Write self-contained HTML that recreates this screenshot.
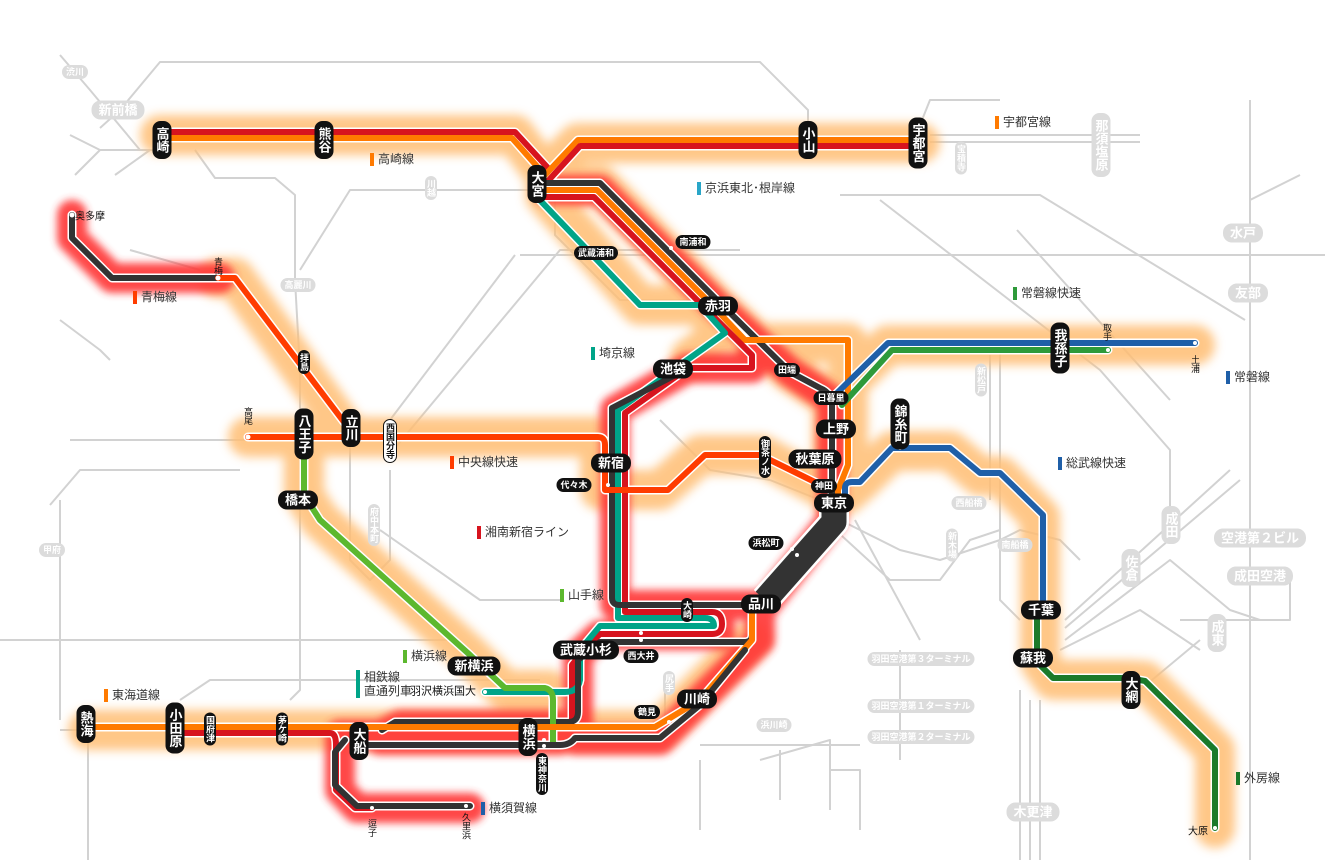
<!DOCTYPE html>
<html><head><meta charset="utf-8">
<style>
html,body{margin:0;padding:0;background:#fff;}
#w{position:relative;width:1325px;height:864px;overflow:hidden;background:#fff;font-family:"Liberation Sans","Noto Sans CJK JP",sans-serif;}
svg{position:absolute;left:0;top:0;}
.p{position:absolute;transform:translate(-50%,-50%);background:#111;color:#fff;font-weight:bold;font-size:13px;line-height:15px;border-radius:9px;padding:2px 7px;white-space:nowrap;}
.v{writing-mode:vertical-rl;text-orientation:upright;padding:6px 2px;border-radius:8px;}
.s{font-size:9px;line-height:10px;padding:2px 4px;}
.sv{font-size:9px;line-height:10px;padding:3px 1px;}
.g{background:#dcdcdc;color:#fff;}
.wt{background:transparent;color:#111;font-weight:normal;}
.l{position:absolute;font-size:12px;color:#333;white-space:nowrap;border-left:4px solid #000;padding-left:4px;line-height:13px;}
</style></head><body><div id="w">
<svg width="1325" height="864" viewBox="0 0 1325 864">
<defs>
<filter id="b1" x="-20%" y="-20%" width="140%" height="140%"><feGaussianBlur stdDeviation="5"/></filter>
<filter id="b2" x="-20%" y="-20%" width="140%" height="140%"><feGaussianBlur stdDeviation="4"/></filter>
</defs>
<g fill="none" stroke="#d2d2d2" stroke-width="2" stroke-linejoin="round">
<path d="M100,128 L120,110 L160,62 H760 L808,110 V125"/>
<path d="M60,55 L90,90 L140,150"/>
<path d="M70,135 L100,150 H160 M100,150 L75,175"/>
<path d="M150,150 L115,175"/>
<path d="M195,150 L215,178 H275 L295,195 V280 L300,370 V560 L300,690 L290,700"/>
<path d="M300,270 L350,190 H540"/>
<path d="M920,125 L930,100 H1000"/>
<path d="M930,135 H1140 M930,142 H1140"/>
<path d="M1250,100 V860"/>
<path d="M555,200 V235 L620,300 H700"/>
<path d="M130,250 L200,270"/>
<path d="M520,255 H1325"/>
<path d="M60,320 L100,350 L110,360"/>
<path d="M390,420 L515,255"/>
<path d="M385,460 L560,250 H740"/>
<path d="M840,195 L1040,195 L1245,320"/>
<path d="M1300,175 L1250,200"/>
<path d="M880,200 L1100,370 L1170,450 V525"/>
<path d="M990,355 V500"/>
<path d="M1000,350 V600 L1020,620"/>
<path d="M1017,230 L1170,400"/>
<path d="M70,440 H350 M50,505 L80,470 H240"/>
<path d="M60,500 V720"/>
<path d="M350,445 V560 L370,580 L390,560 V470"/>
<path d="M660,420 L710,470 L770,480 L820,500"/>
<path d="M830,525 L890,580 L940,580 L970,540 L1000,530"/>
<path d="M840,520 L900,550 L940,560 L1000,540 L1020,530 L1060,540 L1080,560"/>
<path d="M855,520 L920,640"/>
<path d="M900,650 V760"/>
<path d="M1065,620 L1230,470 M1065,628 L1240,480"/>
<path d="M1065,640 L1170,560 L1230,610 L1260,620"/>
<path d="M1060,650 L1140,610 L1200,650"/>
<path d="M1180,620 H1290 V580"/>
<path d="M1040,700 V860 M1030,700 V860 M1020,690 V860"/>
<path d="M1140,690 L1200,640"/>
<path d="M665,690 V740"/>
<path d="M700,745 H860"/>
<path d="M760,760 L830,740 V810 M780,750 V800"/>
<path d="M830,770 H860 V830"/>
<path d="M180,700 L210,680 H540"/>
<path d="M700,760 L700,830"/>
<path d="M380,530 L480,600 H560"/>
<path d="M0,640 H450"/>
<path d="M90,730 H60 M88,740 V860"/>
</g>
<g fill="none" stroke="#ffbe73" stroke-width="40" stroke-linejoin="round" stroke-linecap="round" filter="url(#b1)" opacity="0.85">
<path d="M160,135 H515 L545,175 L578,143 H920"/>
<path d="M545,185 H600 L716,305 L790,372 L832,400 V500"/>
<path d="M545,195 L640,305 H700 L725,333 L690,358"/>
<path d="M745,343 H848 V480"/>
<path d="M835,395 L888,345 H1195"/>
<path d="M845,495 L860,482 L892,451 H950 L980,476 H1000 L1040,517 V662 L1053,680 H1128 L1145,681 L1215,750 V828"/>
<path d="M218,278 H235 L350,437"/>
<path d="M248,437 H600 V490 H660 L700,455 H762 L826,490"/>
<path d="M304,450 V495 L320,520 L470,655 L505,690 H550"/>
<path d="M88,730 H560 L660,730 L750,640"/>
</g>
<g fill="none" stroke="#ff3535" stroke-width="30" stroke-linejoin="round" stroke-linecap="round" filter="url(#b2)" opacity="0.9">
<path d="M72,215 V238 L112,278 H220"/>
<path d="M548,190 H600 L716,305 L790,372 L832,400 V520 L765,605"/>
<path d="M752,355 V368 H688 L615,410 V605 H760 V640 L700,700 L660,740 H575"/>
<path d="M720,620 V635 H600 L578,655 V725 H400 L380,735 H340 V790 L357,808 H470"/>
<path d="M560,740 H380"/>
</g>
<path d="M834,498 V522 L765,600" fill="none" stroke="#fff" stroke-width="30" stroke-linejoin="round"/>
<path d="M834,498 V522 L765,600" fill="none" stroke="#333" stroke-width="25" stroke-linejoin="round"/>
<g fill="none" stroke-linejoin="round" stroke-linecap="round">
<g stroke="#fff" stroke-width="9">
<path d="M160,132 H515 L548,168"/><path d="M160,138 H512 L542,172"/>
<path d="M545,175 L578,140 H920"/><path d="M548,181 L580,146 H920"/>
<path d="M540,183 H600 L715,298 L790,372 L820,388 Q832,393 832,405 V500"/>
<path d="M540,190 H597 L712,305 L745,340 H848 V465 L838,490 V500"/>
<path d="M545,197 H594 L700,303 L752,355 V368 H688 L625,413 V612 H712 Q722,612 722,624 Q722,634 712,634 H600 L584,650 L572,665 V722"/>
<path d="M535,195 L640,305 H700 L725,333 L690,358 L618,410 V618 H705 Q714,618 714,626 H600 L580,650 V680 Q578,692 565,692 H485"/>
<path d="M685,370 L612,408 V598 Q612,605 620,605 H752 V635 Q752,642 744,642 H600 L578,660 V712 Q578,722 568,722 H395 L382,730"/>
<path d="M835,395 L888,343 H1195"/><path d="M842,405 L892,350 H1108"/>
<path d="M845,505 V488 Q845,482 852,482 H860 L892,448 H950 L980,473 H1000 L1043,515 V600"/>
<path d="M1037,608 V662 L1053,678 H1128 L1145,681 L1215,750 V828"/>
<path d="M72,215 V238 L112,278 H218"/>
<path d="M218,278 H235 L350,430"/>
<path d="M248,437 H598 Q605,437 605,445 V490 H668 L705,455 H760 L825,487"/>
<path d="M304,455 V495 L320,520 L470,655 L505,688 H545 Q553,690 553,700 V745"/>
<path d="M88,727 H560 L655,727 L700,700 L752,640 V612"/>
<path d="M175,733 H330 Q336,733 336,745 V790 L355,808 H372"/>
<path d="M360,745 H560 Q570,745 575,738 L660,738 L700,705 L745,650"/>
<path d="M345,740 L335,752 V785 L357,806 H470"/>
</g>
<g stroke-width="6">
<path stroke="#d7141e" d="M160,132 H515 L548,168"/>
<path stroke="#ff7a00" d="M160,138 H512 L542,172"/>
<path stroke="#ff7a00" d="M545,175 L578,140 H920"/>
<path stroke="#d7141e" d="M548,181 L580,146 H920"/>
<path stroke="#333" d="M540,183 H600 L715,298 L790,372 L820,388 Q832,393 832,405 V500"/>
<path stroke="#ff7a00" d="M540,190 H597 L712,305 L745,340 H848 V465 L838,490 V500"/>
<path stroke="#d7141e" d="M545,197 H594 L700,303 L752,355 V368 H688 L625,413 V612 H712 Q722,612 722,624 Q722,634 712,634 H600 L584,650 L572,665 V722"/>
<path stroke="#00a488" d="M535,195 L640,305 H700 L725,333 L690,358 L618,410 V618 H705 Q714,618 714,626 H600 L580,650 V680 Q578,692 565,692 H485"/>
<path stroke="#333" d="M685,370 L612,408 V598 Q612,605 620,605 H752 V635 Q752,642 744,642 H600 L578,660 V712 Q578,722 568,722 H395 L382,730"/>
<path stroke="#1f5fa8" d="M835,395 L888,343 H1195"/>
<path stroke="#2e9a3a" d="M842,405 L892,350 H1108"/>
<path stroke="#1f5fa8" d="M845,505 V488 Q845,482 852,482 H860 L892,448 H950 L980,473 H1000 L1043,515 V600"/>
<path stroke="#1b7a2a" d="M1037,608 V662 L1053,678 H1128 L1145,681 L1215,750 V828"/>
<path stroke="#333" d="M72,215 V238 L112,278 H218"/>
<path stroke="#ff3c00" d="M218,278 H235 L350,430"/>
<path stroke="#ff3c00" d="M248,437 H598 Q605,437 605,445 V490 H668 L705,455 H760 L825,487"/>
<path stroke="#5cb82e" d="M304,455 V495 L320,520 L470,655 L505,688 H545 Q553,690 553,700 V745"/>
<path stroke="#ff7a00" d="M88,727 H560 L655,727 L700,700 L752,640 V612"/>
<path stroke="#d7141e" d="M175,733 H330 Q336,733 336,745 V790 L355,808 H372"/>
<path stroke="#333" d="M360,745 H560 Q570,745 575,738 L660,738 L700,705 L745,650"/>
<path stroke="#333" d="M345,740 L335,752 V785 L357,806 H470"/>
</g>
</g>
<g fill="#fff">
<circle cx="72" cy="215" r="2.5"/><circle cx="218" cy="278" r="2.5"/><circle cx="248" cy="437" r="2.5"/>
<circle cx="608" cy="485" r="2"/><circle cx="671" cy="248" r="2"/><circle cx="1108" cy="350" r="2"/><circle cx="1195" cy="343" r="2"/>
<circle cx="900" cy="448" r="2"/><circle cx="792" cy="549" r="2"/><circle cx="797" cy="555" r="2"/>
<circle cx="641" cy="633" r="2"/><circle cx="641" cy="640" r="2"/><circle cx="669" cy="722" r="2"/>
<circle cx="544" cy="740" r="2"/><circle cx="544" cy="746" r="2"/><circle cx="372" cy="808" r="2"/><circle cx="466" cy="806" r="2"/>
<circle cx="1215" cy="828" r="2"/><circle cx="485" cy="692" r="2"/>
</g>
</svg>

<div class="p v" style="left:162px;top:140px">高崎</div>
<div class="p v" style="left:324px;top:140px">熊谷</div>
<div class="p v" style="left:808px;top:140px">小山</div>
<div class="p v" style="left:918px;top:143px">宇都宮</div>
<div class="p v" style="left:537px;top:184px">大宮</div>
<div class="p" style="left:718px;top:306px">赤羽</div>
<div class="p" style="left:673px;top:369px">池袋</div>
<div class="p" style="left:611px;top:463px">新宿</div>
<div class="p" style="left:836px;top:429px">上野</div>
<div class="p" style="left:815px;top:459px">秋葉原</div>
<div class="p" style="left:834px;top:503px">東京</div>
<div class="p" style="left:761px;top:604px">品川</div>
<div class="p" style="left:586px;top:650px">武蔵小杉</div>
<div class="p" style="left:474px;top:666px">新横浜</div>
<div class="p" style="left:697px;top:699px">川崎</div>
<div class="p v" style="left:528px;top:737px">横浜</div>
<div class="p v" style="left:359px;top:741px">大船</div>
<div class="p v" style="left:175px;top:728px">小田原</div>
<div class="p v" style="left:86px;top:724px">熱海</div>
<div class="p v" style="left:304px;top:434px">八王子</div>
<div class="p v" style="left:351px;top:428px">立川</div>
<div class="p" style="left:298px;top:500px">橋本</div>
<div class="p v" style="left:1060px;top:348px">我孫子</div>
<div class="p v" style="left:900px;top:424px">錦糸町</div>
<div class="p" style="left:1041px;top:610px">千葉</div>
<div class="p" style="left:1033px;top:658px">蘇我</div>
<div class="p v" style="left:1131px;top:690px">大網</div>
<div class="p s" style="left:831px;top:398px">日暮里</div>
<div class="p s" style="left:787px;top:370px">田端</div>
<div class="p s" style="left:693px;top:242px">南浦和</div>
<div class="p s" style="left:596px;top:253px">武蔵浦和</div>
<div class="p s" style="left:574px;top:485px">代々木</div>
<div class="p s" style="left:824px;top:486px">神田</div>
<div class="p s" style="left:766px;top:543px">浜松町</div>
<div class="p s" style="left:641px;top:656px">西大井</div>
<div class="p s" style="left:647px;top:712px">鶴見</div>
<div class="p v sv" style="left:765px;top:457px">御茶ノ水</div>
<div class="p v sv" style="left:687px;top:610px">大崎</div>
<div class="p v sv" style="left:390px;top:441px;background:#fff;color:#111;border:1px solid #111">西国分寺</div>
<div class="p v sv" style="left:304px;top:362px">拝島</div>
<div class="p v sv" style="left:210px;top:729px">国府津</div>
<div class="p v sv" style="left:282px;top:729px">茅ケ崎</div>
<div class="p v sv" style="left:542px;top:774px">東神奈川</div>
<div class="p wt" style="left:90px;top:217px;font-size:10px">奥多摩</div>
<div class="p wt v sv" style="left:218px;top:266px">青梅</div>
<div class="p wt v sv" style="left:248px;top:416px">高尾</div>
<div class="p wt v sv" style="left:1107px;top:332px">取手</div>
<div class="p wt v sv" style="left:1195px;top:364px">土浦</div>
<div class="p wt v sv" style="left:372px;top:828px">逗子</div>
<div class="p wt v sv" style="left:466px;top:826px">久里浜</div>
<div class="p wt" style="left:1198px;top:832px;font-size:10px">大原</div>
<div class="p wt" style="left:443px;top:692px;font-size:11px">羽沢横浜国大</div>
<div class="p g" style="left:118px;top:110px">新前橋</div>
<div class="p g s" style="left:75px;top:72px">渋川</div>
<div class="p g" style="left:1243px;top:233px">水戸</div>
<div class="p g" style="left:1248px;top:293px">友部</div>
<div class="p g v" style="left:1171px;top:525px">成田</div>
<div class="p g" style="left:1260px;top:538px">空港第２ビル</div>
<div class="p g" style="left:1260px;top:576px">成田空港</div>
<div class="p g v" style="left:1131px;top:568px">佐倉</div>
<div class="p g v" style="left:1217px;top:633px">成東</div>
<div class="p g" style="left:1033px;top:812px">木更津</div>
<div class="p g v sv" style="left:961px;top:158px">宝積寺</div>
<div class="p g v" style="left:1101px;top:145px">那須塩原</div>
<div class="p g v sv" style="left:431px;top:188px">川越</div>
<div class="p g s" style="left:298px;top:285px">高麗川</div>
<div class="p g v sv" style="left:374px;top:525px">府中本町</div>
<div class="p g s" style="left:52px;top:550px">甲府</div>
<div class="p g v sv" style="left:981px;top:380px">新松戸</div>
<div class="p g s" style="left:969px;top:503px">西船橋</div>
<div class="p g v sv" style="left:952px;top:545px">新木場</div>
<div class="p g s" style="left:1015px;top:545px">南船橋</div>
<div class="p g v sv" style="left:669px;top:683px">尻手</div>
<div class="p g s" style="left:774px;top:725px">浜川崎</div>
<div class="p g s" style="left:921px;top:659px">羽田空港第３ターミナル</div>
<div class="p g s" style="left:921px;top:706px">羽田空港第１ターミナル</div>
<div class="p g s" style="left:921px;top:737px">羽田空港第２ターミナル</div>
<div class="l" style="left:370px;top:153px;border-color:#ff7a00">高崎線</div>
<div class="l" style="left:995px;top:116px;border-color:#ff7a00">宇都宮線</div>
<div class="l" style="left:697px;top:182px;border-color:#29a6c8">京浜東北･根岸線</div>
<div class="l" style="left:133px;top:291px;border-color:#ff3c00">青梅線</div>
<div class="l" style="left:1013px;top:287px;border-color:#2e9a3a">常磐線快速</div>
<div class="l" style="left:591px;top:347px;border-color:#00a488">埼京線</div>
<div class="l" style="left:1226px;top:371px;border-color:#1f5fa8">常磐線</div>
<div class="l" style="left:450px;top:456px;border-color:#ff3c00">中央線快速</div>
<div class="l" style="left:1058px;top:457px;border-color:#1f5fa8">総武線快速</div>
<div class="l" style="left:477px;top:526px;border-color:#d7141e">湘南新宿ライン</div>
<div class="l" style="left:560px;top:589px;border-color:#5cb82e">山手線</div>
<div class="l" style="left:403px;top:650px;border-color:#5cb82e">横浜線</div>
<div class="l" style="left:356px;top:670px;border-color:#00a488;line-height:14px">相鉄線<br>直通列車</div>
<div class="l" style="left:104px;top:689px;border-color:#ff7a00">東海道線</div>
<div class="l" style="left:481px;top:802px;border-color:#1f5fa8">横須賀線</div>
<div class="l" style="left:1236px;top:772px;border-color:#1b7a2a">外房線</div>
</div></body></html>
